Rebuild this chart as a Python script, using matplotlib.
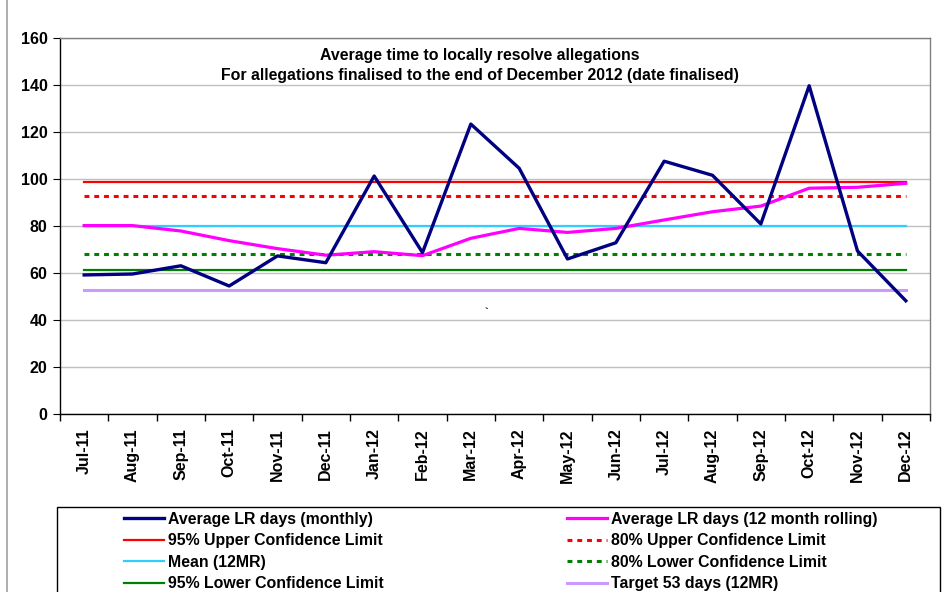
import matplotlib
matplotlib.use('Agg')
import matplotlib.pyplot as plt
import numpy as np

plt.rcParams['font.family'] = ['Liberation Sans', 'DejaVu Sans']
plt.rcParams['font.weight'] = 'bold'

months = ['Jul-11', 'Aug-11', 'Sep-11', 'Oct-11', 'Nov-11', 'Dec-11',
          'Jan-12', 'Feb-12', 'Mar-12', 'Apr-12', 'May-12', 'Jun-12',
          'Jul-12', 'Aug-12', 'Sep-12', 'Oct-12', 'Nov-12', 'Dec-12']
monthly = [59.3, 59.7, 63.2, 54.6, 67.4, 64.5, 101.4, 68.8, 123.5,
           104.7, 66.1, 73.0, 107.7, 101.7, 81.0, 139.8, 69.5, 48.3]
rolling = [80.3, 80.3, 78.0, 73.9, 70.5, 67.7, 69.2, 67.5, 74.9,
           79.1, 77.4, 79.1, 82.7, 86.2, 88.6, 96.2, 96.6, 98.3]
ucl95 = 99.0
ucl80 = 92.8
mean_12mr = 80.1
lcl80 = 68.1
lcl95 = 61.5
target = 53.0

title = ('Average time to locally resolve allegations\n'
         'For allegations finalised to the end of December 2012 (date finalised)')

fig = plt.figure(figsize=(9.45, 5.92), dpi=100)
W, H = 945, 592
ax = fig.add_axes([60 / W, 1 - 414.3 / H, 870 / W, (414.3 - 38.3) / H])

x = np.arange(len(months))
n = len(months)

# limits first, then the two series on top
h_ucl95, = ax.plot(x, [ucl95] * n, color='#FF0000', lw=1.6, label='95% Upper Confidence Limit')
h_ucl80, = ax.plot(x, [ucl80] * n, color='#FF0000', lw=2.2, ls=(0, (1.6, 1.6)),
                   label='80% Upper Confidence Limit')
h_mean, = ax.plot(x, [mean_12mr] * n, color='#33CCFF', lw=1.6, label='Mean (12MR)')
h_lcl80, = ax.plot(x, [lcl80] * n, color='#008000', lw=2.2, ls=(0, (1.6, 1.6)),
                   label='80% Lower Confidence Limit')
h_lcl95, = ax.plot(x, [lcl95] * n, color='#008000', lw=1.6, label='95% Lower Confidence Limit')
h_tgt, = ax.plot(x, [target] * n, color='#CC99FF', lw=2.2, label='Target 53 days (12MR)')
h_roll, = ax.plot(x, rolling, color='#FF00FF', lw=2.3, label='Average LR days (12 month rolling)')
h_month, = ax.plot(x, monthly, color='#000080', lw=2.4, label='Average LR days (monthly)')

ax.set_xlim(-0.5, n - 0.5)
ax.set_ylim(0, 160)
ax.set_yticks(np.arange(0, 161, 20))
ax.grid(axis='y', color='#C0C0C0', lw=1)
ax.set_axisbelow(True)

ax.set_xticks(x)
ax.set_xticklabels(months, rotation=90, fontsize=11.5, fontweight='bold')
ax.set_xticks(np.arange(-0.5, n, 1), minor=True)
ax.tick_params(axis='x', which='major', length=0, pad=10)
ax.tick_params(axis='x', which='minor', length=5, direction='out', width=1)
ax.tick_params(axis='y', length=5, direction='out', labelsize=11.5, pad=4)
for lab in ax.get_yticklabels():
    lab.set_fontweight('bold')

for s in ['left', 'bottom']:
    ax.spines[s].set_color('black')
    ax.spines[s].set_linewidth(1)
for s in ['top', 'right']:
    ax.spines[s].set_color('#808080')
    ax.spines[s].set_linewidth(1)

fig.text(480 / W, 1 - 65.5 / H, title, ha='center', va='center', fontsize=11.4,
         fontweight='bold', linespacing=1.45)
fig.text(487 / W, 1 - 312 / H, '`', ha='center', va='center', fontsize=8)

# outer chart border (left side only visible)
fig.add_artist(plt.Line2D([7 / W, 7 / W], [0, 1], color='#A0A0A0', lw=1.2))

# legend frame
fig.add_artist(plt.Rectangle((57 / W, -0.05), 883 / W, 0.05 + 1 - 507 / H,
                             fill=False, edgecolor='black', lw=1,
                             transform=fig.transFigure))

leg_kw = dict(loc='center left', prop={'weight': 'bold', 'size': 11.4}, frameon=False,
              handlelength=2.5, handletextpad=0.25, labelspacing=0.42,
              borderpad=0, borderaxespad=0)
col1 = [h_month, h_ucl95, h_mean, h_lcl95]
col2 = [h_roll, h_ucl80, h_lcl80, h_tgt]
leg1 = fig.legend(col1, [h.get_label() for h in col1],
                  bbox_to_anchor=(124 / W, 1 - 551.5 / H), **leg_kw)
leg2 = fig.legend(col2, [h.get_label() for h in col2],
                  bbox_to_anchor=(567 / W, 1 - 551.5 / H), **leg_kw)

fig.savefig('out.png', dpi=100)
